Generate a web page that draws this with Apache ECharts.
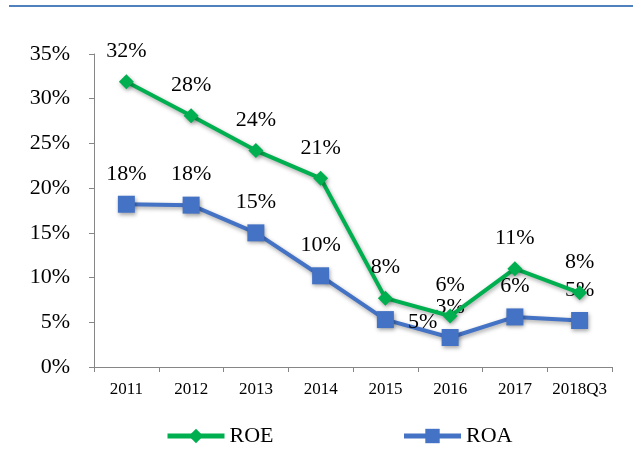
<!DOCTYPE html>
<html><head><meta charset="utf-8">
<script src="https://cdn.jsdelivr.net/npm/echarts@6/dist/echarts.min.js"></script>
<style>html,body{margin:0;padding:0;background:#fff;}#c{width:633px;height:456px;}</style>
</head><body><div id="c"></div>
<script>
const categories = ['2011','2012','2013','2014','2015','2016','2017','2018Q3'];
const roe = [31.9, 28.1, 24.2, 21.1, 7.7, 5.7, 11.0, 8.3];
const roa = [18.2, 18.1, 15.0, 10.2, 5.3, 3.3, 5.6, 5.2];
const roeLabels = ['32%','28%','24%','21%','8%','6%','11%','8%'];
const roaLabels = ['18%','18%','15%','10%','5%','3%','6%','5%'];
const yTicks = [0,5,10,15,20,25,30,35];

const FONT = '"Liberation Serif","Times New Roman",serif';
const chart = echarts.init(document.getElementById('c'));
const shadow = {shadowBlur: 4, shadowColor: 'rgba(0,0,0,0.35)', shadowOffsetX: 1, shadowOffsetY: 2};

function mk(vals, labels, special) {
  return vals.map((v, i) => {
    const d = {value: v, label: {formatter: labels[i]}};
    if (special && special[i]) d.label = Object.assign(d.label, special[i]);
    return d;
  });
}

chart.setOption({
  animation: false,
  backgroundColor: '#fff',
  graphic: [{type: 'line', shape: {x1: 9, y1: 6, x2: 633, y2: 6}, style: {stroke: '#4F81BD', lineWidth: 2}}],
  grid: {left: 94, right: 21, top: 54, bottom: 89},
  legend: {
    left: 165, top: 425, padding: 0, itemWidth: 57, itemHeight: 18, itemGap: 128,
    lineStyle: {width: 5},
    textStyle: {fontFamily: FONT, fontSize: 22, color: '#000'},
    data: ['ROE', 'ROA']
  },
  xAxis: {
    type: 'category', data: categories, boundaryGap: true,
    axisLine: {lineStyle: {color: '#868686', width: 1}},
    axisTick: {show: true, alignWithLabel: false, length: 5, inside: false, lineStyle: {color: '#868686'}},
    axisLabel: {fontFamily: FONT, fontSize: 17, color: '#000', margin: 14, interval: 0}
  },
  yAxis: {
    type: 'value', min: yTicks[0], max: yTicks[yTicks.length-1], interval: 5,
    axisLine: {show: true, lineStyle: {color: '#868686', width: 1}},
    axisTick: {show: true, length: 5, lineStyle: {color: '#868686'}},
    splitLine: {show: false},
    axisLabel: {fontFamily: FONT, fontSize: 22, color: '#000', margin: 24, formatter: v => v + '%'}
  },
  series: [
    {
      name: 'ROE', type: 'line', data: mk(roe, roeLabels),
      symbol: 'diamond', symbolSize: 15,
      lineStyle: Object.assign({color: '#00B050', width: 4}, shadow),
      itemStyle: Object.assign({color: '#00B050'}, shadow),
      label: {show: true, position: 'top', distance: 12, fontFamily: FONT, fontSize: 22, color: '#000'},
      z: 3
    },
    {
      name: 'ROA', type: 'line', data: mk(roa, roaLabels, {4: {position: 'right', distance: 14, offset: [0, 3]}}),
      symbol: 'rect', symbolSize: 17,
      lineStyle: Object.assign({color: '#4472C4', width: 4}, shadow),
      itemStyle: Object.assign({color: '#4472C4'}, shadow),
      label: {show: true, position: 'top', distance: 11, fontFamily: FONT, fontSize: 22, color: '#000'},
      z: 2
    }
  ]
});
</script>
</body></html>
